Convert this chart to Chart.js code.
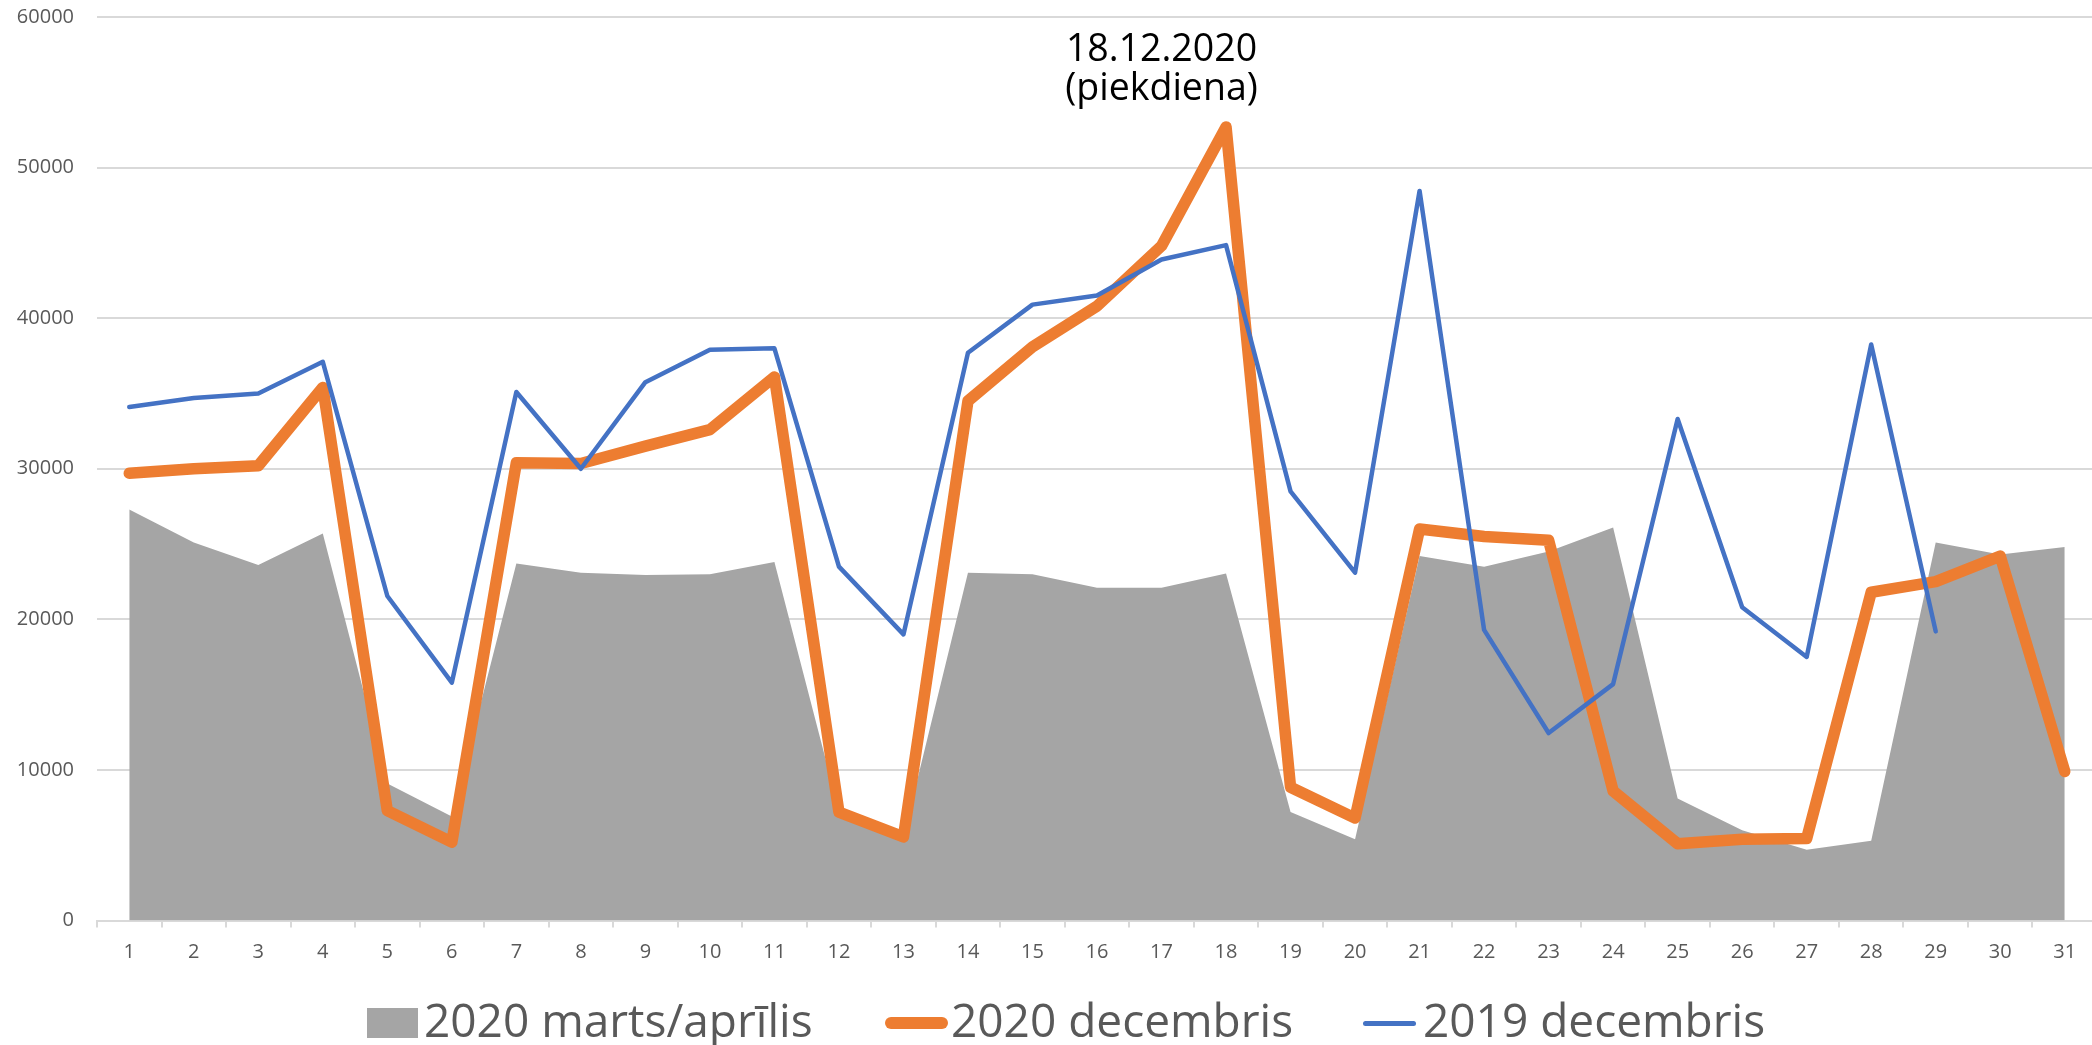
<!DOCTYPE html>
<html>
<head>
<meta charset="utf-8">
<script src="https://cdn.jsdelivr.net/npm/chart.js@4.4.1/dist/chart.umd.min.js"></script>
<style>
  html, body { margin: 0; padding: 0; background: #ffffff; overflow: hidden; }
  #wrap { position: relative; width: 2092px; height: 1045px; overflow: hidden; background: #fff; }
  #c { position: absolute; left: 0; top: 0; }
  .lg-text { position: absolute; top: 996px; line-height: 46px; font-family: "Open Sans", sans-serif; font-size: 46px; color: #595959; white-space: nowrap; }
  .lg-mark { position: absolute; }
</style>
</head>
<body>
<div id="wrap">
  <canvas id="c" width="2100" height="1045"></canvas>
</div>
<script>
// ---- data ----
const dayLabels = ['1','2','3','4','5','6','7','8','9','10','11','12','13','14','15','16','17','18','19','20','21','22','23','24','25','26','27','28','29','30','31'];

const seriesNames = ['2020 marts/aprīlis', '2020 decembris', '2019 decembris'];

const marchApril2020 = [27300, 25100, 23600, 25700, 9100, 6900, 23700, 23100, 22950, 23000, 23800, 7300, 5600, 23100, 23000, 22100, 22100, 23050, 7200, 5400, 24200, 23500, 24500, 26100, 8100, 6000, 4700, 5300, 25100, 24300, 24800];

const december2020 = [29700, 30000, 30200, 35400, 7300, 5200, 30400, 30350, 31500, 32600, 36100, 7200, 5550, 34500, 38100, 40800, 44800, 52700, 8850, 6800, 26000, 25500, 25250, 8600, 5100, 5400, 5450, 21800, 22500, 24200, 9900];

const december2019 = [34100, 34700, 35000, 37100, 21550, 15800, 35100, 30000, 35750, 37900, 38000, 23500, 19000, 37700, 40900, 41500, 43900, 44850, 28500, 23100, 48450, 19300, 12450, 15700, 33300, 20800, 17500, 38250, 19200, null, null];

const yTicks = [0, 10000, 20000, 30000, 40000, 50000, 60000];

const annotationLines = ['18.12.2020', '(piekdiena)'];
const annotationCategory = '17';
const annotationValues = [57100, 54500];

// ---- styles ----
const colors = ['#A5A5A5', '#ED7D31', '#4472C4'];
const textColor = '#595959';
const gridColor = '#D9D9D9';
const fontFamily = '"Open Sans", sans-serif';

const annotationPlugin = {
  id: 'peakNote',
  afterDatasetsDraw(chart) {
    const ctx = chart.ctx;
    const xs = chart.scales.x, ys = chart.scales.y;
    const x = xs.getPixelForValue(dayLabels.indexOf(annotationCategory));
    ctx.save();
    ctx.font = '37.5px ' + fontFamily;
    ctx.fillStyle = '#000000';
    ctx.textAlign = 'center';
    ctx.textBaseline = 'alphabetic';
    annotationLines.forEach((t, i) => {
      ctx.fillText(t, x, ys.getPixelForValue(annotationValues[i]));
    });
    ctx.restore();
  }
};

const chart = new Chart(document.getElementById('c'), {
  type: 'line',
  data: {
    labels: dayLabels,
    datasets: [
      {
        label: seriesNames[0],
        data: marchApril2020,
        fill: 'origin',
        backgroundColor: colors[0],
        borderColor: colors[0],
        borderWidth: 0,
        pointRadius: 0,
        tension: 0,
        order: 3
      },
      {
        label: seriesNames[1],
        data: december2020,
        fill: false,
        borderColor: colors[1],
        backgroundColor: colors[1],
        borderWidth: 11.5,
        borderCapStyle: 'round',
        borderJoinStyle: 'round',
        pointRadius: 0,
        tension: 0,
        order: 2
      },
      {
        label: seriesNames[2],
        data: december2019,
        fill: false,
        borderColor: colors[2],
        backgroundColor: colors[2],
        borderWidth: 4.5,
        borderCapStyle: 'round',
        borderJoinStyle: 'round',
        pointRadius: 0,
        tension: 0,
        spanGaps: false,
        order: 1
      }
    ]
  },
  options: {
    responsive: false,
    animation: false,
    devicePixelRatio: 1,
    layout: { padding: { left: 17, right: 3, top: 17, bottom: 80.5 } },
    plugins: {
      legend: { display: false },
      tooltip: { enabled: false },
      title: { display: false }
    },
    scales: {
      x: {
        offset: true,
        afterFit(scale) { scale.height = 44; },
        grid: { offset: true, drawOnChartArea: false, drawTicks: true, tickLength: 7, color: gridColor, lineWidth: 2 },
        border: { display: true, color: gridColor, width: 2 },
        ticks: { font: { family: fontFamily, size: 20 }, color: textColor, padding: 13, maxRotation: 0, autoSkip: false }
      },
      y: {
        min: 0,
        max: 60000,
        afterBuildTicks(scale) { scale.ticks = yTicks.map(v => ({ value: v })); },
        afterFit(scale) { scale.width = 80; scale.paddingTop = 0; scale.paddingBottom = 0; },
        grid: { color: gridColor, lineWidth: 2, drawTicks: false },
        border: { display: false },
        ticks: { font: { family: fontFamily, size: 20 }, color: textColor, padding: 23, callback: v => String(v) }
      }
    }
  },
  plugins: [annotationPlugin]
});

// ---- HTML legend built from the series ----
const wrap = document.getElementById('wrap');
const legendMarks = [
  { left: 367, top: 1008, width: 51, height: 30, radius: 0 },
  { left: 885, top: 1017, width: 63, height: 12, radius: 6 },
  { left: 1363, top: 1020.5, width: 53, height: 5, radius: 2.5 }
];
const legendTextLeft = [424, 951, 1423];
seriesNames.forEach((name, i) => {
  const m = document.createElement('div');
  m.className = 'lg-mark';
  const s = legendMarks[i];
  m.style.left = s.left + 'px';
  m.style.top = s.top + 'px';
  m.style.width = s.width + 'px';
  m.style.height = s.height + 'px';
  m.style.borderRadius = s.radius + 'px';
  m.style.background = colors[i];
  wrap.appendChild(m);
  const t = document.createElement('div');
  t.className = 'lg-text';
  t.style.left = legendTextLeft[i] + 'px';
  t.textContent = name;
  wrap.appendChild(t);
});
</script>
</body>
</html>
